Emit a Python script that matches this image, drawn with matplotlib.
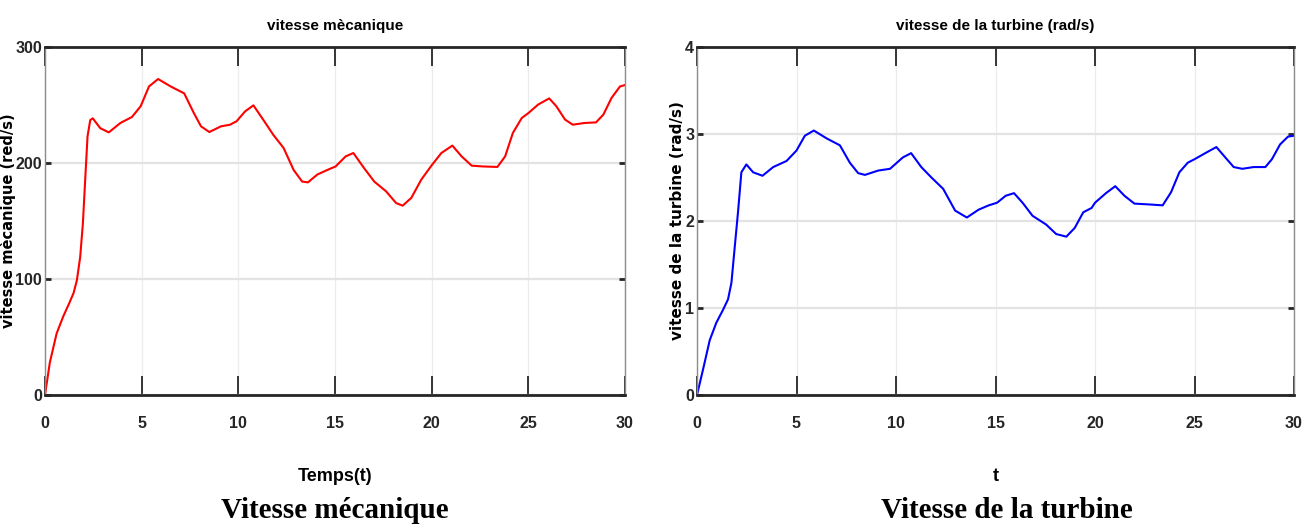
import numpy as np
import matplotlib.pyplot as plt

# speed (red curve, rad/s)
t_meca = [0, 0.25, 0.6, 0.95, 1.25, 1.48, 1.65, 1.82, 1.96, 2.08, 2.2, 2.34, 2.47,
          2.86, 3.3, 3.9, 4.5, 4.95, 5.38, 5.85, 6.5, 7.2, 7.7, 8.07, 8.5, 9.1,
          9.57, 9.91, 10.35, 10.78, 11.3, 11.82, 12.34, 12.86, 13.3, 13.6, 14.08,
          14.6, 15.03, 15.55, 15.95, 16.5, 17.03, 17.64, 18.16, 18.5, 18.95, 19.46,
          20.0, 20.5, 21.07, 21.55, 22.07, 22.67, 23.4, 23.8, 24.2, 24.66, 25.0,
          25.5, 26.08, 26.45, 26.9, 27.3, 27.9, 28.5, 28.88, 29.3, 29.74, 30.0]
v_meca = [0, 28, 53, 68, 79, 88, 99, 119, 148, 186, 223, 237, 238.5,
          230, 226.4, 234.5, 239.7, 249, 266, 272.4, 266, 260, 243, 231.6, 226.7, 231.6,
          233, 236, 244.5, 249.7, 237, 224, 213, 194, 184, 183.3, 190,
          194, 197, 205.7, 208.6, 195.7, 184, 175.6, 165.5, 163.2, 170, 185.6,
          198, 208.6, 215, 205.7, 197.7, 197, 196.6, 205.7, 225.9, 238.8, 243,
          250.3, 255.7, 248.9, 237.4, 233, 234.5, 235, 241.7, 256, 266, 267.2]

# turbine speed (blue curve, rad/s)
t_turb = [0, 0.3, 0.64, 0.97, 1.31, 1.56, 1.73, 1.9, 2.06, 2.23, 2.48, 2.82, 3.29,
          3.83, 4.5, 5.0, 5.42, 5.87, 6.51, 7.18, 7.68, 8.1, 8.44, 9.11, 9.7,
          10.34, 10.76, 11.27, 11.78, 12.37, 12.97, 13.56, 14.15, 14.66, 15.08,
          15.51, 15.93, 16.36, 16.86, 17.54, 18.05, 18.56, 18.98, 19.41, 19.83,
          20.0, 20.55, 21.02, 21.48, 21.98, 22.74, 23.4, 23.82, 24.24, 24.66, 25.0,
          25.62, 26.1, 26.55, 26.97, 27.4, 27.97, 28.56, 28.89, 29.3, 29.7, 30.0]
v_turb = [0, 0.29, 0.63, 0.83, 0.98, 1.10, 1.29, 1.71, 2.1, 2.56, 2.65, 2.56, 2.52,
          2.62, 2.69, 2.81, 2.98, 3.04, 2.95, 2.87, 2.67, 2.55, 2.53, 2.58, 2.6,
          2.73, 2.78, 2.62, 2.5, 2.37, 2.12, 2.04, 2.13, 2.18, 2.21,
          2.29, 2.32, 2.21, 2.06, 1.96, 1.85, 1.82, 1.92, 2.1, 2.15,
          2.21, 2.32, 2.40, 2.29, 2.2, 2.19, 2.18, 2.33, 2.56, 2.67, 2.71,
          2.79, 2.85, 2.73, 2.62, 2.6, 2.62, 2.62, 2.71, 2.88, 2.97, 2.98]

x_ticks = [0, 5, 10, 15, 20, 25, 30]

narrow = ['DejaVu Sans Condensed', 'Liberation Sans']

fig = plt.figure(figsize=(13.12, 5.29), dpi=100)
W, H = 1312, 529


def style(ax, yticks):
    ax.set_xlim(0, 30)
    ax.set_xticks(x_ticks)
    ax.set_yticks(yticks)
    ax.grid(True, axis='y', color='#e3e3e3', lw=1.6)
    ax.grid(True, axis='x', color='#ececec', lw=0.9)
    ax.set_axisbelow(True)
    for s in ['top', 'bottom']:
        ax.spines[s].set_linewidth(2.0)
        ax.spines[s].set_color('#262626')
    for s in ['left', 'right']:
        ax.spines[s].set_linewidth(1.0)
        ax.spines[s].set_color('#8c8c8c')
    ax.tick_params(axis='x', direction='in', top=True, bottom=True,
                   length=14, width=1.3, pad=15, color='#262626')
    ax.tick_params(axis='y', direction='in', left=True, right=True,
                   length=4.5, width=2.0, pad=2, color='#262626')
    for lab in ax.get_xticklabels() + ax.get_yticklabels():
        lab.set_family(narrow)
        lab.set_fontweight('bold')
        lab.set_fontsize(11.5)
        lab.set_color('#262626')


# left panel
ax1 = fig.add_axes([45 / W, 1 - 395 / H, 580 / W, 348 / H])
ax1.plot(t_meca, v_meca, color='red', lw=1.5)
ax1.set_ylim(0, 300)
style(ax1, [0, 100, 200, 300])
ax1.set_title('vitesse mècanique', family=narrow, fontweight='bold', fontsize=11, pad=12)
ax1.set_xlabel('Temps(t)', family=narrow, fontweight='bold', fontsize=13)
ax1.xaxis.set_label_coords(0.5, -0.21)
ax1.set_ylabel('vitesse mècanique (red/s)', fontweight='bold', fontsize=10.5, va='center')
ax1.yaxis.set_label_coords(-0.064, 0.5)

# right panel
ax2 = fig.add_axes([697 / W, 1 - 395 / H, 597 / W, 348 / H])
ax2.plot(t_turb, v_turb, color='blue', lw=1.5)
ax2.set_ylim(0, 4)
style(ax2, [0, 1, 2, 3, 4])
ax2.set_title('vitesse de la turbine (rad/s)', family=narrow, fontweight='bold', fontsize=11, pad=12)
ax2.set_xlabel('t', family=narrow, fontweight='bold', fontsize=13)
ax2.xaxis.set_label_coords(0.5, -0.21)
ax2.set_ylabel('vitesse de la turbine (rad/s)', fontweight='bold', fontsize=11, va='center')
ax2.yaxis.set_label_coords(-0.0335, 0.5)

# captions under each panel
fig.text(335 / W, 1 - 511 / H, 'Vitesse mécanique', family='Liberation Serif',
         fontweight='bold', fontsize=21, ha='center', va='center')
fig.text(1007 / W, 1 - 511 / H, 'Vitesse de la turbine', family='Liberation Serif',
         fontweight='bold', fontsize=21, ha='center', va='center')

fig.savefig('out.png', dpi=100)
